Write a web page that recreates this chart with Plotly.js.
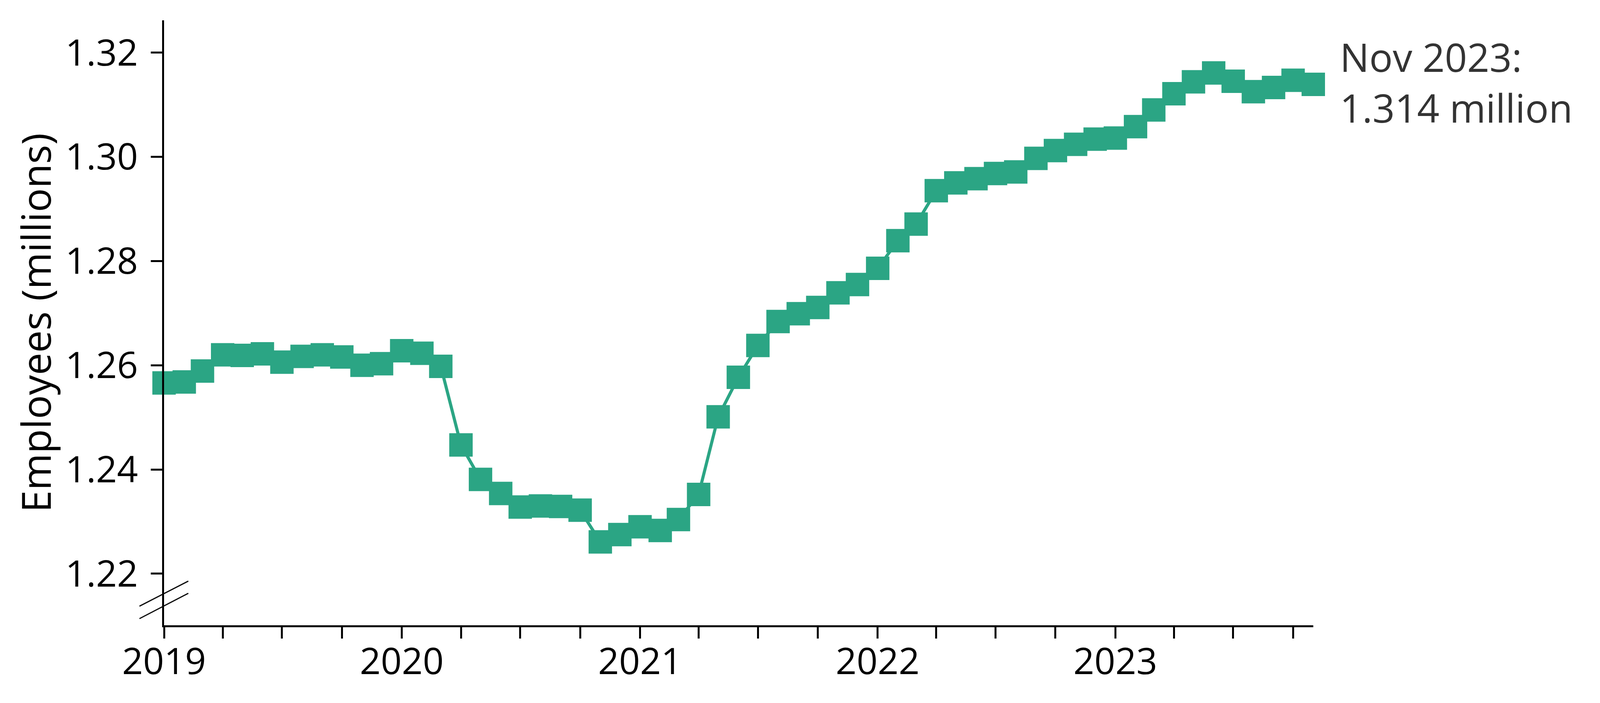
<!DOCTYPE html>
<html>
<head>
<meta charset="utf-8">
<script src="https://cdn.plot.ly/plotly-3.0.1.min.js"></script>
<style>
  html, body { margin: 0; padding: 0; background: #fff; }
  #chart { width: 4200px; height: 1800px; }
</style>
</head>
<body>
<div id="chart"></div>
<script>
// Monthly employees (millions), Jan 2019 to Nov 2023
const months = [
    '2019-01-01', '2019-02-01', '2019-03-01', '2019-04-01', '2019-05-01', '2019-06-01',
    '2019-07-01', '2019-08-01', '2019-09-01', '2019-10-01', '2019-11-01', '2019-12-01',
    '2020-01-01', '2020-02-01', '2020-03-01', '2020-04-01', '2020-05-01', '2020-06-01',
    '2020-07-01', '2020-08-01', '2020-09-01', '2020-10-01', '2020-11-01', '2020-12-01',
    '2021-01-01', '2021-02-01', '2021-03-01', '2021-04-01', '2021-05-01', '2021-06-01',
    '2021-07-01', '2021-08-01', '2021-09-01', '2021-10-01', '2021-11-01', '2021-12-01',
    '2022-01-01', '2022-02-01', '2022-03-01', '2022-04-01', '2022-05-01', '2022-06-01',
    '2022-07-01', '2022-08-01', '2022-09-01', '2022-10-01', '2022-11-01', '2022-12-01',
    '2023-01-01', '2023-02-01', '2023-03-01', '2023-04-01', '2023-05-01', '2023-06-01',
    '2023-07-01', '2023-08-01', '2023-09-01', '2023-10-01', '2023-11-01'
];

const employees = [
    1.2566, 1.2568, 1.2589, 1.2620, 1.2619, 1.2622,
    1.2606, 1.2617, 1.2620, 1.2616, 1.2600, 1.2603,
    1.2628, 1.2623, 1.2598, 1.2447, 1.2381, 1.2354,
    1.2328, 1.2330, 1.2329, 1.2322, 1.2261, 1.2275,
    1.2290, 1.2283, 1.2304, 1.2352, 1.2501, 1.2577,
    1.2638, 1.2684, 1.2699, 1.2711, 1.2739, 1.2755,
    1.2786, 1.2839, 1.2871, 1.2935, 1.2950, 1.2958,
    1.2968, 1.2971, 1.2997, 1.3012, 1.3024, 1.3034,
    1.3036, 1.3058, 1.3090, 1.3121, 1.3144, 1.3161,
    1.3145, 1.3125, 1.3133, 1.3147, 1.3139
];

// Quarterly ticks, year label on January only
const xTickVals = [
    '2019-01-01', '2019-04-01', '2019-07-01', '2019-10-01',
    '2020-01-01', '2020-04-01', '2020-07-01', '2020-10-01',
    '2021-01-01', '2021-04-01', '2021-07-01', '2021-10-01',
    '2022-01-01', '2022-04-01', '2022-07-01', '2022-10-01',
    '2023-01-01', '2023-04-01', '2023-07-01', '2023-10-01'
];
const xTickText = [
    '2019', '', '', '',
    '2020', '', '', '',
    '2021', '', '', '',
    '2022', '', '', '',
    '2023', '', '', ''
];

const yTickVals = [1.22, 1.24, 1.26, 1.28, 1.30, 1.32];
const yTickText = ['1.22', '1.24', '1.26', '1.28', '1.30', '1.32'];

const latestLabel = 'Nov 2023:<br>1.314 million';

const green = '#2ba584';
const fontFamily = '"Open Sans", "Noto Sans", sans-serif';

const trace = {
    x: months,
    y: employees,
    type: 'scatter',
    mode: 'lines+markers',
    cliponaxis: false,
    line: {
        color: green,
        width: 8
    },
    marker: {
        symbol: 'square',
        size: 60,
        color: green
    },
    hoverinfo: 'skip'
};

const layout = {
    width: 4200,
    height: 1800,
    margin: { l: 420, r: 838, t: 52, b: 199 },
    paper_bgcolor: '#ffffff',
    plot_bgcolor: '#ffffff',
    showlegend: false,
    font: { family: fontFamily, color: '#000000', size: 94 },
    xaxis: {
        type: 'date',
        range: ['2019-01-01', '2023-11-01'],
        showgrid: false,
        zeroline: false,
        showline: true,
        linecolor: '#000000',
        linewidth: 5,
        ticks: 'outside',
        ticklen: 29,
        tickwidth: 5,
        tickcolor: '#000000',
        tickmode: 'array',
        tickvals: xTickVals,
        ticktext: xTickText,
        ticklabelstandoff: -22,
        tickfont: { family: fontFamily, size: 94, color: '#000000' }
    },
    yaxis: {
        range: [1.2101, 1.3262],
        showgrid: false,
        zeroline: false,
        showline: true,
        linecolor: '#000000',
        linewidth: 5,
        ticks: 'outside',
        ticklen: 29,
        tickwidth: 5,
        tickcolor: '#000000',
        tickmode: 'array',
        tickvals: yTickVals,
        ticktext: yTickText,
        ticklabelstandoff: 14,
        tickfont: { family: fontFamily, size: 94, color: '#000000' },
        title: {
            text: 'Employees (millions)',
            standoff: 4,
            font: { family: fontFamily, size: 102, color: '#000000' }
        }
    },
    annotations: [
        {
            x: months[months.length - 1],
            y: employees[employees.length - 1],
            xref: 'x',
            yref: 'y',
            text: latestLabel,
            showarrow: false,
            xanchor: 'left',
            yanchor: 'middle',
            align: 'left',
            xshift: 66,
            yshift: 6,
            font: { family: fontFamily, size: 100, color: '#333333' }
        }
    ],
    // axis break marks near the bottom of the y axis
    shapes: [
        {
            type: 'line', xref: 'paper', yref: 'paper',
            x0: -0.0214, y0: 0.0316, x1: 0.0211, y1: 0.0730,
            line: { color: '#000000', width: 3 }
        },
        {
            type: 'line', xref: 'paper', yref: 'paper',
            x0: -0.0214, y0: 0.0110, x1: 0.0211, y1: 0.0529,
            line: { color: '#000000', width: 3 }
        }
    ]
};

Plotly.newPlot('chart', [trace], layout, { staticPlot: true, displayModeBar: false });
</script>
</body>
</html>
